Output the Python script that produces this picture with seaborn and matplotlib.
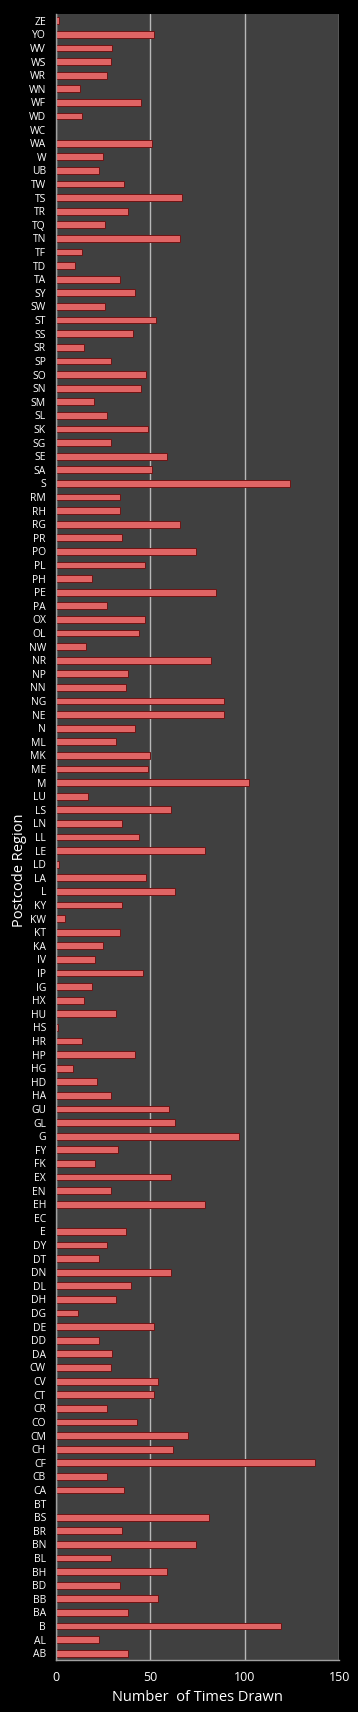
"""Horizontal bar chart: how often each postcode region was drawn."""

import matplotlib
matplotlib.use("Agg")
import matplotlib.pyplot as plt
import seaborn as sns
import pandas as pd

# Data (top to bottom as shown in the chart)
regions = [
    "ZE", "YO", "WV", "WS", "WR", "WN", "WF", "WD", "WC", "WA",
    "W", "UB", "TW", "TS", "TR", "TQ", "TN", "TF", "TD", "TA",
    "SY", "SW", "ST", "SS", "SR", "SP", "SO", "SN", "SM", "SL",
    "SK", "SG", "SE", "SA", "S", "RM", "RH", "RG", "PR", "PO",
    "PL", "PH", "PE", "PA", "OX", "OL", "NW", "NR", "NP", "NN",
    "NG", "NE", "N", "ML", "MK", "ME", "M", "LU", "LS", "LN",
    "LL", "LE", "LD", "LA", "L", "KY", "KW", "KT", "KA", "IV",
    "IP", "IG", "HX", "HU", "HS", "HR", "HP", "HG", "HD", "HA",
    "GU", "GL", "G", "FY", "FK", "EX", "EN", "EH", "EC", "E",
    "DY", "DT", "DN", "DL", "DH", "DG", "DE", "DD", "DA", "CW",
    "CV", "CT", "CR", "CO", "CM", "CH", "CF", "CB", "CA", "BT",
    "BS", "BR", "BN", "BL", "BH", "BD", "BB", "BA", "B", "AL", "AB",
]
times_drawn = [
    2, 52, 30, 29, 27, 13, 45, 14, 0, 51,
    25, 23, 36, 67, 38, 26, 66, 14, 10, 34,
    42, 26, 53, 41, 15, 29, 48, 45, 20, 27,
    49, 29, 59, 51, 124, 34, 34, 66, 35, 74,
    47, 19, 85, 27, 47, 44, 16, 82, 38, 37,
    89, 89, 42, 32, 50, 49, 102, 17, 61, 35,
    44, 79, 2, 48, 63, 35, 5, 34, 25, 21,
    46, 19, 15, 32, 1, 14, 42, 9, 22, 29,
    60, 63, 97, 33, 21, 61, 29, 79, 0, 37,
    27, 23, 61, 40, 32, 12, 52, 23, 30, 29,
    54, 52, 27, 43, 70, 62, 137, 27, 36, 0,
    81, 35, 74, 29, 59, 34, 54, 38, 119, 23, 38,
]
x_ticks = [0, 50, 100, 150]

df = pd.DataFrame({"Region": regions, "Times": times_drawn})

sns.set_theme(style="dark")
plt.rcParams.update({
    "figure.facecolor": "black",
    "axes.facecolor": "#404040",
    "text.color": "white",
    "axes.labelcolor": "white",
    "xtick.color": "white",
    "ytick.color": "white",
})
plt.rcParams["font.family"] = ["Open Sans", "DejaVu Sans"]

fig = plt.figure(figsize=(3.58, 17.12), dpi=100)
ax = fig.add_axes([0.1556, 0.0304, 0.7922, 0.9614])

sns.barplot(
    data=df, y="Region", x="Times", order=regions, orient="h",
    color="#e06464", edgecolor="#6e1414", linewidth=0.7,
    width=0.5, saturation=1, ax=ax,
)

ax.set_xlim(0, 150)
ax.set_xticks(x_ticks)
ax.xaxis.grid(True, color="#b8b8b8", linewidth=1)
ax.yaxis.grid(False)
ax.set_axisbelow(True)

for side in ["top", "right"]:
    ax.spines[side].set_visible(False)
for side in ["left", "bottom"]:
    ax.spines[side].set_visible(True)
    ax.spines[side].set_color("#a0a0a0")
    ax.spines[side].set_linewidth(1)

ax.tick_params(axis="y", labelsize=7.5, length=0, pad=7)
ax.tick_params(axis="x", labelsize=9, length=0, pad=8)

ax.set_xlabel("Number  of Times Drawn", fontsize=10.5, labelpad=4)
ax.set_ylabel("Postcode Region", fontsize=10.5)
ax.yaxis.set_label_coords(-0.1, 0.48)

fig.savefig("out.png", dpi=100, facecolor="black")
plt.close(fig)
